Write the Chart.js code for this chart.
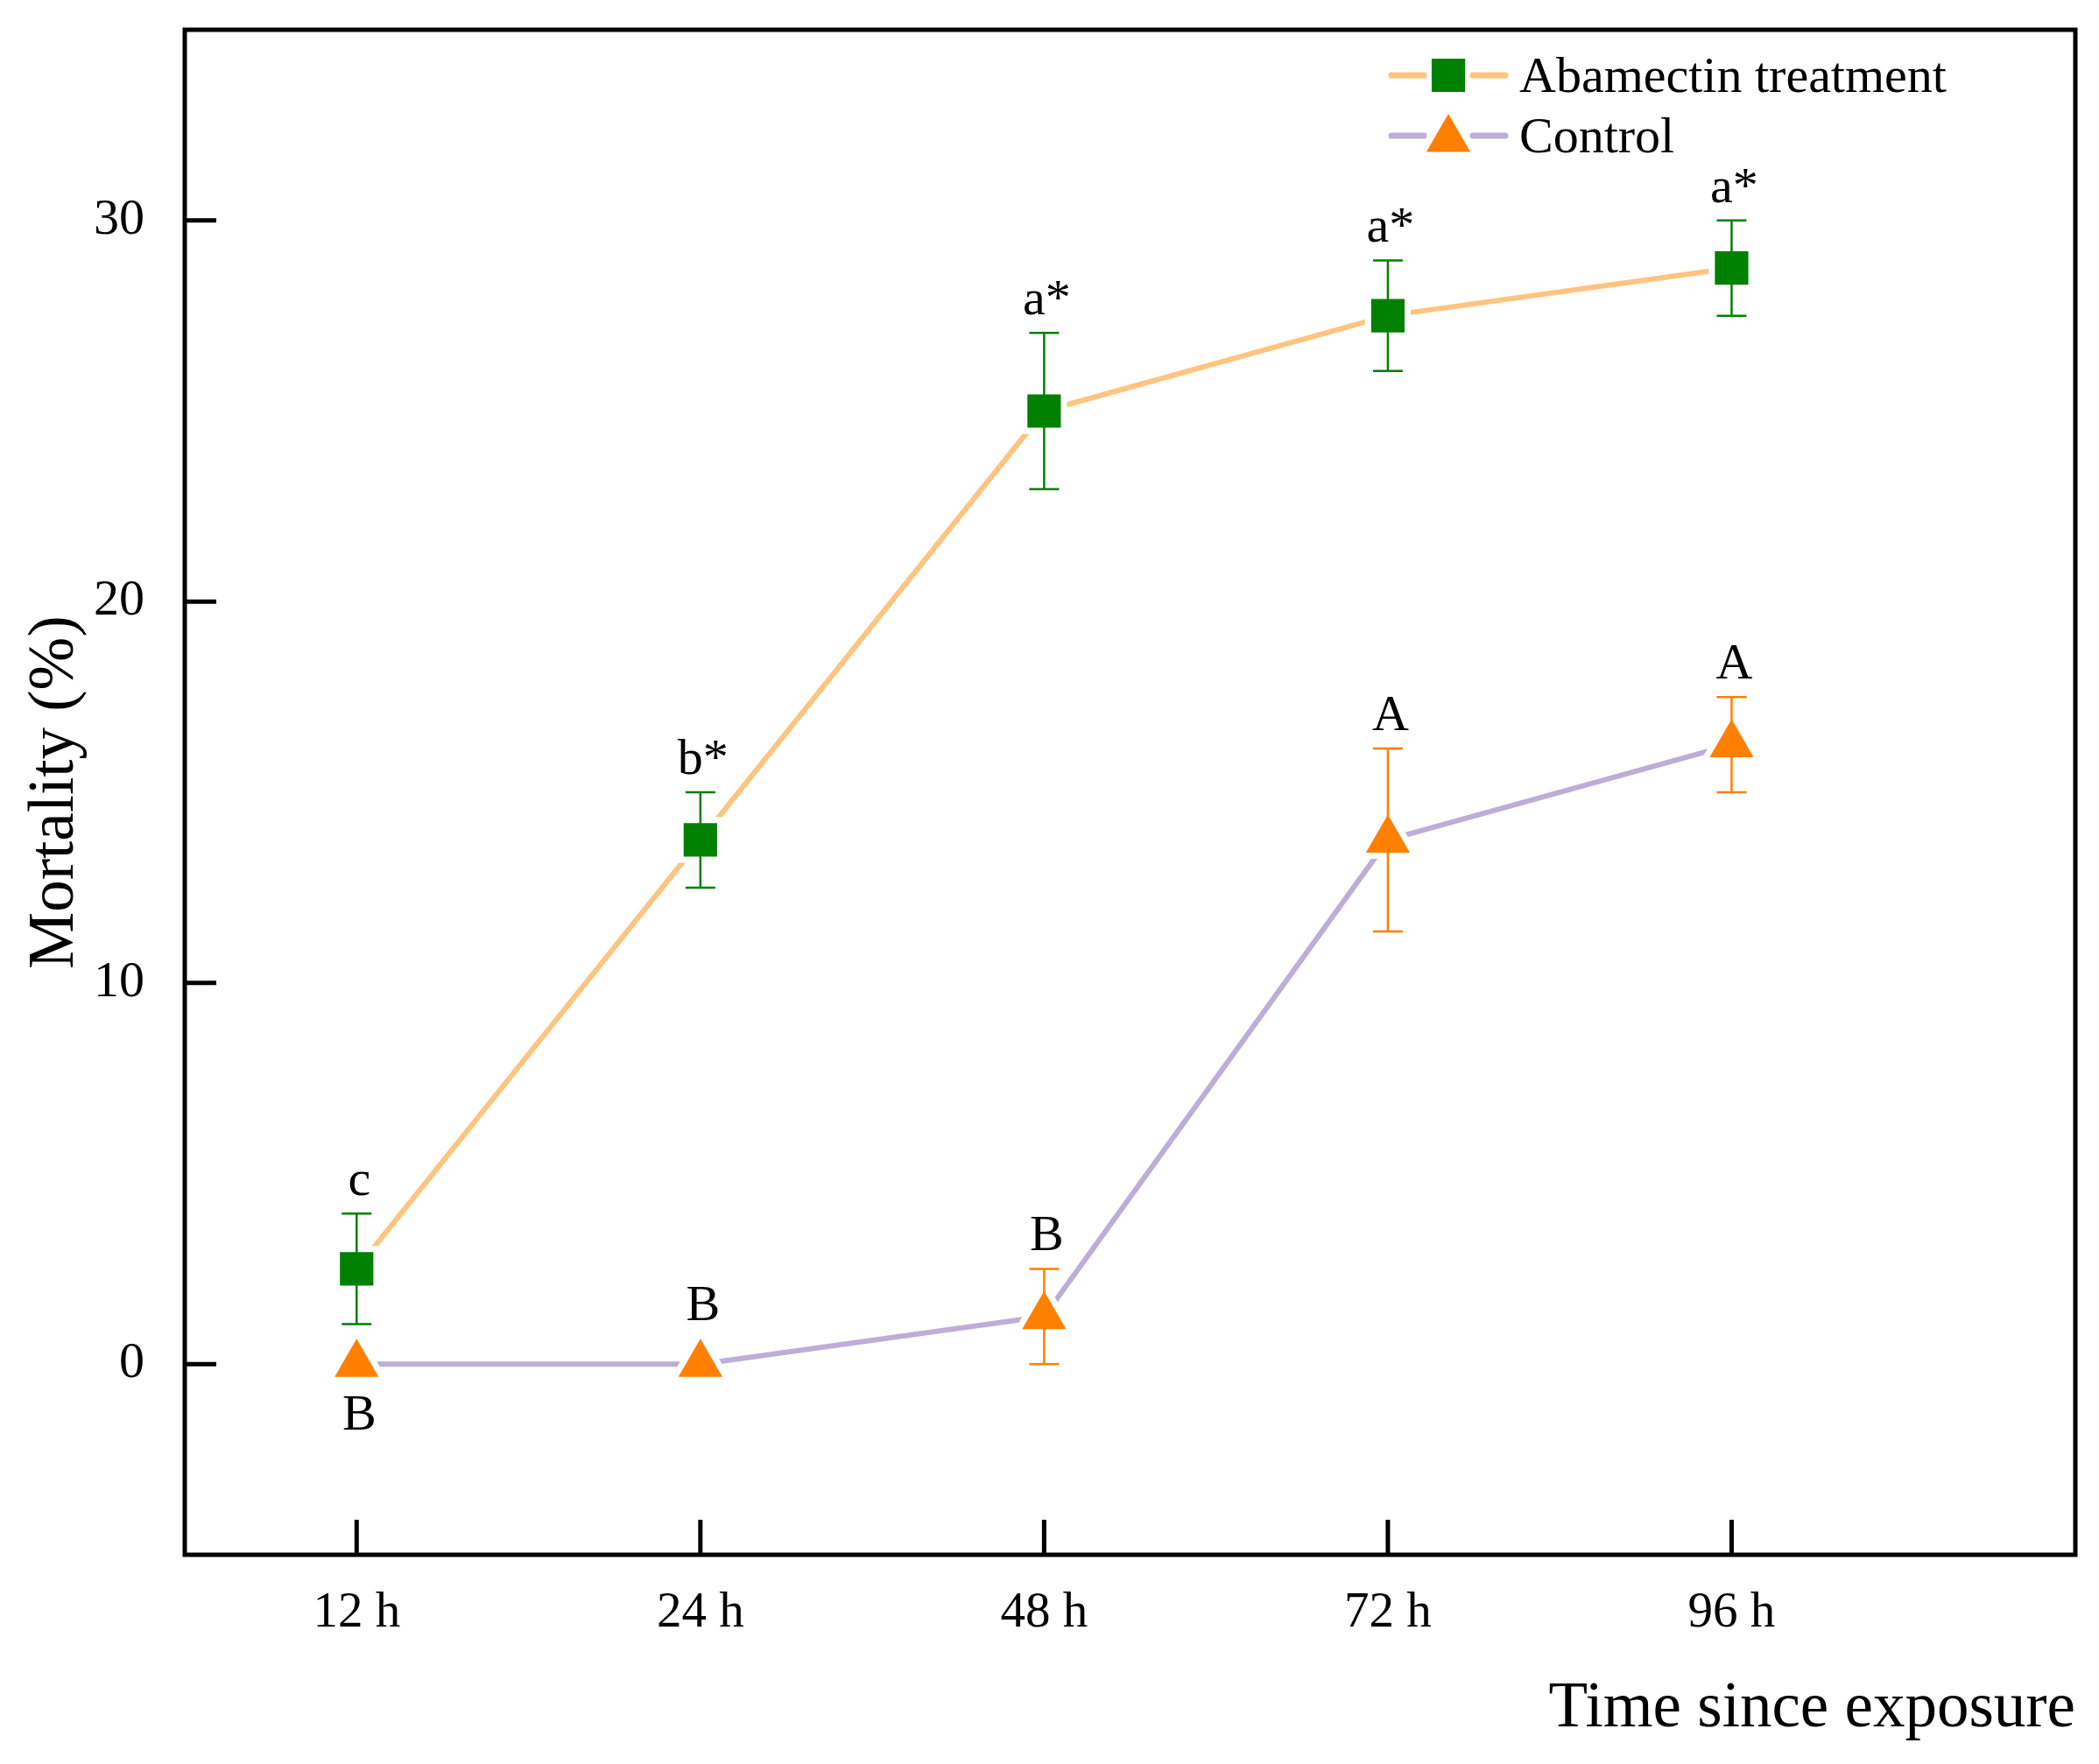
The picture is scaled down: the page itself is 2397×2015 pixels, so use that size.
<!DOCTYPE html>
<html><head><meta charset="utf-8">
<script src="https://cdn.jsdelivr.net/npm/chart.js@4.4.1/dist/chart.umd.min.js"></script>
<style>html,body{margin:0;padding:0;background:#fff;} #wrap{width:2397px;height:2015px;}</style>
</head><body><div id="wrap"><canvas id="c" width="2397" height="2015"></canvas></div>
<script>
const categories = ['12 h', '24 h', '48 h', '72 h', '96 h'];
const seriesNames = ['Abamectin treatment', 'Control'];
const abamectinMean = [2.5, 13.75, 25, 27.5, 28.75];
const abamectinErr = [1.45, 1.25, 2.05, 1.45, 1.25];
const abamectinLetters = ['c', 'b*', 'a*', 'a*', 'a*'];
const controlMean = [0, 0, 1.25, 13.75, 16.25];
const controlErr = [0, 0, 1.25, 2.4, 1.25];
const controlLetters = ['B', 'B', 'B', 'A', 'A'];
const yTicks = [0, 10, 20, 30];

const FONT = "'Liberation Serif', 'Times New Roman', serif";
const PLOT = {left: 211, top: 34, right: 2370, bottom: 1776};
const series = [
  {name: seriesNames[0], mean: abamectinMean, err: abamectinErr, letters: abamectinLetters,
   line: '#FFC47E', marker: '#008000', style: 'rect', r: 27, halo: 37},
  {name: seriesNames[1], mean: controlMean, err: controlErr, letters: controlLetters,
   line: '#BEADD8', marker: '#FF8000', style: 'triangle', r: 29, halo: 43}
];
const toPts = arr => arr.map((v, i) => ({x: i, y: v}));
const markerTop = s => s.style === 'triangle' ? s.r : s.r * Math.SQRT1_2;
const markerBottom = s => s.style === 'triangle' ? s.r / 2 : s.r * Math.SQRT1_2;

const datasets = [];
series.forEach((s, k) => {
  datasets.push({label: s.name, data: toPts(s.mean), borderColor: s.line, borderWidth: 6,
    borderCapStyle: 'round', pointStyle: s.style, pointRadius: s.halo, pointBackgroundColor: '#ffffff',
    pointBorderWidth: 0, pointBorderColor: 'rgba(0,0,0,0)', order: 2, tension: 0, seriesIdx: k, role: 'line'});
});
series.forEach((s, k) => {
  datasets.push({label: s.name, data: toPts(s.mean), showLine: false, pointStyle: s.style,
    pointRadius: s.r, pointBackgroundColor: s.marker, pointBorderWidth: 0, pointBorderColor: 'rgba(0,0,0,0)',
    order: 1, seriesIdx: k, role: 'marker'});
});

function drawMarker(ctx, style, x, y, r, color) {
  ctx.save();
  ctx.fillStyle = color;
  ctx.beginPath();
  if (style === 'rect') {
    const h = r * Math.SQRT1_2;
    ctx.rect(x - h, y - h, 2 * h, 2 * h);
  } else {
    ctx.moveTo(x, y - r);
    ctx.lineTo(x + Math.sin(2 * Math.PI / 3) * r, y - Math.cos(2 * Math.PI / 3) * r);
    ctx.lineTo(x + Math.sin(4 * Math.PI / 3) * r, y - Math.cos(4 * Math.PI / 3) * r);
    ctx.closePath();
  }
  ctx.fill();
  ctx.restore();
}

const decorPlugin = {
  id: 'decor',
  afterLayout(chart) {
    const ca = chart.chartArea, W = chart.width, H = chart.height;
    ca.left = PLOT.left; ca.top = PLOT.top; ca.right = PLOT.right; ca.bottom = PLOT.bottom;
    ca.width = PLOT.right - PLOT.left; ca.height = PLOT.bottom - PLOT.top;
    const xs = chart.scales.x, ys = chart.scales.y;
    xs.left = PLOT.left; xs.right = PLOT.right; xs.width = PLOT.right - PLOT.left;
    xs.top = PLOT.bottom; xs.bottom = H; xs.height = H - PLOT.bottom;
    ys.left = 0; ys.right = PLOT.left; ys.width = PLOT.left;
    ys.top = PLOT.top; ys.bottom = PLOT.bottom; ys.height = PLOT.bottom - PLOT.top;
    xs.configure(); ys.configure();
  },
  afterDatasetDraw(chart, args) {
    const ds = chart.data.datasets[args.index];
    if (ds.role !== 'line') return;
    const s = series[ds.seriesIdx];
    const xs = chart.scales.x, ys = chart.scales.y, ctx = chart.ctx;
    ctx.save();
    ctx.strokeStyle = s.marker;
    ctx.lineWidth = 2.5;
    s.mean.forEach((m, j) => {
      const e = s.err[j];
      if (!(e > 0)) return;
      const px = xs.getPixelForValue(j);
      const top = ys.getPixelForValue(m + e), bot = ys.getPixelForValue(m - e);
      ctx.beginPath();
      ctx.moveTo(px, top); ctx.lineTo(px, bot);
      ctx.moveTo(px - 17, top); ctx.lineTo(px + 17, top);
      ctx.moveTo(px - 17, bot); ctx.lineTo(px + 17, bot);
      ctx.stroke();
    });
    ctx.restore();
  },
  afterDraw(chart) {
    const {ctx, chartArea: ca} = chart;
    const xs = chart.scales.x, ys = chart.scales.y;
    ctx.save();
    ctx.strokeStyle = '#000';
    ctx.lineWidth = 5;
    ctx.strokeRect(ca.left, ca.top, ca.right - ca.left, ca.bottom - ca.top);
    ctx.beginPath();
    categories.forEach((c, i) => {
      const px = xs.getPixelForValue(i);
      ctx.moveTo(px, ca.bottom); ctx.lineTo(px, ca.bottom - 40);
    });
    yTicks.forEach(v => {
      const py = ys.getPixelForValue(v);
      ctx.moveTo(ca.left, py); ctx.lineTo(ca.left + 36, py);
    });
    ctx.stroke();

    ctx.fillStyle = '#000';
    ctx.font = '58px ' + FONT;
    ctx.textAlign = 'center';
    ctx.textBaseline = 'alphabetic';
    const capH = 38;
    series.forEach((s, k) => {
      const o = series[1 - k];
      s.mean.forEach((m, j) => {
        const px = xs.getPixelForValue(j);
        const e = s.err[j];
        const anchor = e > 0 ? ys.getPixelForValue(m + e) : ys.getPixelForValue(m) - markerTop(s);
        let base = anchor - 21;
        const oTop = ys.getPixelForValue(o.mean[j] + o.err[j]) - markerTop(o);
        const oBot = ys.getPixelForValue(o.mean[j] - o.err[j]) + markerBottom(o);
        if (base > oTop && base - capH < oBot) {
          base = ys.getPixelForValue(m) + markerBottom(s) + 22 + capH;
        }
        ctx.fillText(s.letters[j], px + 3, base);
      });
    });

    const lx = 1586, rowY = [86, 155];
    series.forEach((s, k) => {
      const y = rowY[k];
      ctx.strokeStyle = s.line;
      ctx.lineWidth = 7;
      ctx.lineCap = 'round';
      ctx.beginPath();
      ctx.moveTo(lx + 3, y); ctx.lineTo(lx + 40, y);
      ctx.moveTo(lx + 96, y); ctx.lineTo(lx + 133, y);
      ctx.stroke();
      drawMarker(ctx, s.style, lx + 68, s.style === 'triangle' ? y + 4 : y, s.r, s.marker);
      ctx.fillStyle = '#000';
      ctx.font = '58px ' + FONT;
      ctx.textAlign = 'left';
      ctx.textBaseline = 'alphabetic';
      ctx.fillText(s.name, 1735, y + 19);
    });
    ctx.restore();
  }
};

new Chart(document.getElementById('c'), {
  type: 'line',
  data: {datasets},
  options: {
    responsive: false,
    devicePixelRatio: 1,
    animation: false,
    events: [],
    layout: {padding: {left: 0, right: 27, top: 34, bottom: 0}},
    plugins: {legend: {display: false}, tooltip: {enabled: false}},
    scales: {
      x: {
        type: 'linear', min: -0.5, max: 5,
        grid: {display: false}, border: {display: false},
        afterBuildTicks: sc => { sc.ticks = categories.map((c, i) => ({value: i})); },
        ticks: {callback: v => categories[v] !== undefined ? categories[v] : '',
          font: {family: FONT, size: 57}, color: '#000', padding: 25, maxRotation: 0, autoSkip: false},
        title: {display: true, text: 'Time since exposure', align: 'end',
          font: {family: FONT, size: 73}, color: '#000', padding: {top: 0, bottom: 18}}
      },
      y: {
        type: 'linear', min: -5, max: 35,
        grid: {display: false}, border: {display: false},
        afterBuildTicks: sc => { sc.ticks = yTicks.map(v => ({value: v})); },
        ticks: {font: {family: FONT, size: 58}, color: '#000', padding: 38},
        title: {display: true, text: 'Mortality (%)', font: {family: FONT, size: 73}, color: '#000',
          padding: {top: 20, bottom: 0}}
      }
    }
  },
  plugins: [decorPlugin]
});
</script>
</body></html>
